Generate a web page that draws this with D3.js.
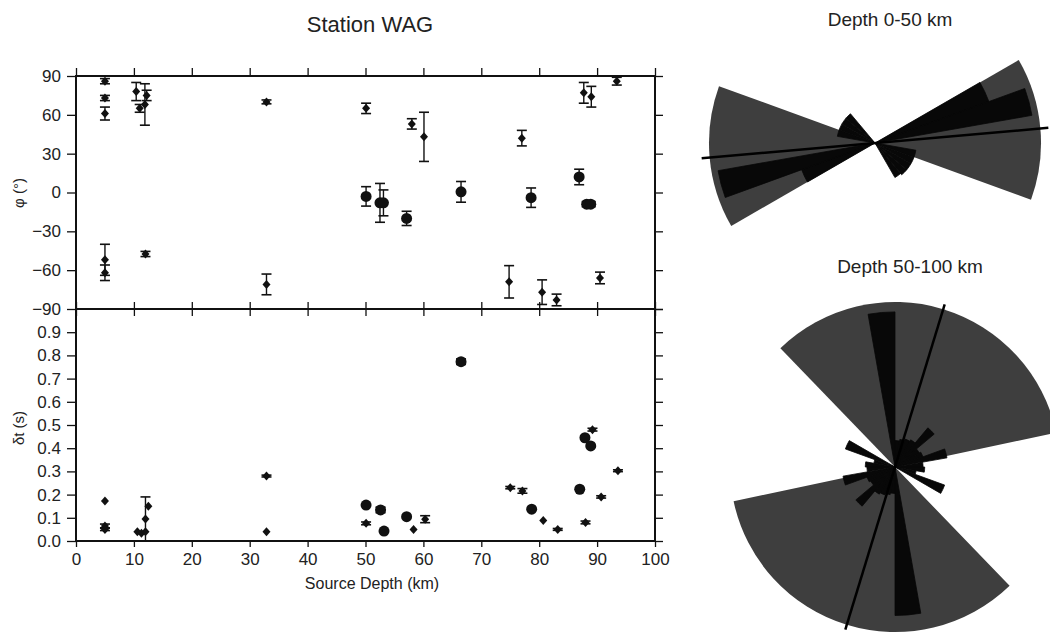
<!DOCTYPE html>
<html>
<head>
<meta charset="utf-8">
<script src="https://cdn.jsdelivr.net/npm/d3@7"></script>
<style>
  body { margin: 0; background: #fff; }
  svg { display: block; font-family: "Liberation Sans", Arial, Helvetica, sans-serif; }
</style>
</head>
<body>
<svg id="chart" width="1050" height="635"></svg>
<script>
// --- phi vs depth (top panel)
var phiDepth = [5.0, 5.0, 5.0, 5.0, 5.0, 10.4, 11.0, 11.9, 12.2, 12.0, 32.9, 32.9, 50.1, 58.0, 60.1, 74.8, 77.0, 80.5, 83.0, 87.7, 89.0, 90.5, 93.4,
                50.1, 52.5, 53.1, 57.1, 66.5, 78.6, 86.9, 88.2, 88.9];
var phiVal   = [86, 73, 61, -52, -62, 78, 65, 68, 75, -47.5, 70, -71, 65, 53, 43, -69, 42, -77, -83, 77, 74, -66, 86,
                -3, -8, -8, -20, 0.5, -4, 12, -9, -9];
var phiErr   = [2, 2, 5, 12, 6, 7, 3, 16, 4, 2, 1.5, 8, 4, 4, 19, 12.5, 6, 9.5, 4.5, 8, 8, 4.5, 3,
                7.5, 15, 10, 5.5, 8, 7.5, 6, 2, 2];
var phiSym   = ["d","d","d","d","d","d","d","d","d","d","d","d","d","d","d","d","d","d","d","d","d","d","d",
                "c","c","c","c","c","c","c","c","c"];

// --- delay time vs depth (bottom panel)
var dtDepth = [5.0, 5.0, 5.0, 10.6, 11.3, 12.0, 12.0, 12.5, 32.9, 32.9, 50.1, 58.3, 60.3, 75.0, 77.1, 80.7, 83.2, 88.0, 89.2, 90.7, 93.6,
               50.1, 52.6, 53.2, 57.1, 66.5, 78.7, 87.0, 87.9, 88.9];
var dtVal   = [0.172, 0.065, 0.05, 0.04, 0.033, 0.095, 0.04, 0.15, 0.28, 0.04, 0.076, 0.05, 0.094, 0.23, 0.216, 0.088, 0.05, 0.08, 0.48, 0.19, 0.303,
               0.155, 0.134, 0.043, 0.105, 0.773, 0.137, 0.223, 0.445, 0.41];
var dtErr   = [0, 0.008, 0.005, 0, 0, 0.095, 0, 0, 0.004, 0, 0.006, 0, 0.015, 0.005, 0.01, 0, 0.004, 0.006, 0.006, 0.005, 0.004,
               0, 0.012, 0, 0, 0.012, 0, 0, 0, 0];
var dtSym   = ["d","d","d","d","d","d","d","d","d","d","d","d","d","d","d","d","d","d","d","d","d",
               "c","c","c","c","c","c","c","c","c"];

var depthTicks = [0, 10, 20, 30, 40, 50, 60, 70, 80, 90, 100];
var phiTicks = [-90, -60, -30, 0, 30, 60, 90];
var dtTicks = [0, 0.1, 0.2, 0.3, 0.4, 0.5, 0.6, 0.7, 0.8, 0.9, 1.0];

// --- rose diagrams (azimuth in degrees clockwise from north, lengths as fraction of max)
var rose1GrayStart = [60, 240];
var rose1GrayEnd   = [110, 290];
var rose1BinStart  = [60, 70, 240, 250, 100, 110, 120, 130, 140, 280, 290, 300, 310];
var rose1BinLen    = [0.73, 0.96, 0.47, 0.96, 0.25, 0.25, 0.25, 0.25, 0.24, 0.23, 0.23, 0.23, 0.23];
var rose1Mean = 85;

var rose2GrayStart = [316, 136];
var rose2GrayEnd   = [438, 258];
var rose2BinStart  = [350, 170, 290, 110, 40, 220, 70, 250,
                      0, 10, 20, 30, 50, 60, 80, 90, 100, 180, 190, 200, 210, 230, 240, 260, 270, 280];
var rose2BinLen    = [0.94, 0.90, 0.32, 0.32, 0.31, 0.31, 0.32, 0.32,
                      0.16, 0.17, 0.18, 0.19, 0.17, 0.18, 0.17, 0.18, 0.13, 0.16, 0.17, 0.18, 0.19, 0.17, 0.18, 0.17, 0.18, 0.13];
var rose2Mean = 17;

var svg = d3.select("#chart");
var ink = "#111";

var x = d3.scaleLinear().domain([0, 100]).range([76, 655]);
var yPhi = d3.scaleLinear().domain([-90, 90]).range([309, 76]);
var yDt = d3.scaleLinear().domain([0, 1]).range([541, 309]);

// title
svg.append("text").attr("x", 370).attr("y", 32).attr("text-anchor", "middle")
  .attr("font-size", 22).attr("fill", "#222").text("Station WAG");

// axes
function styleAxis(g){
  g.select(".domain").remove();
  g.selectAll(".tick line").attr("stroke", ink).attr("stroke-width", 1.3);
  g.selectAll(".tick text").attr("font-size", 17).attr("fill", "#222")
   .attr("font-family", "Liberation Sans, Arial, sans-serif");
}

svg.append("g").attr("transform", "translate(0,76)")
  .call(d3.axisTop(x).tickValues(depthTicks).tickSize(8).tickFormat(""))
  .call(styleAxis);
svg.append("g").attr("transform", "translate(0,309)")
  .call(d3.axisBottom(x).tickValues(depthTicks).tickSize(7).tickFormat(""))
  .call(styleAxis);
svg.append("g").attr("transform", "translate(0,309)")
  .call(d3.axisTop(x).tickValues(depthTicks).tickSize(7).tickFormat(""))
  .call(styleAxis);
svg.append("g").attr("transform", "translate(0,541)")
  .call(d3.axisBottom(x).tickValues(depthTicks).tickSize(6).tickPadding(6).tickFormat(d3.format("d")))
  .call(styleAxis);

svg.append("g").attr("transform", "translate(76,0)")
  .call(d3.axisLeft(yPhi).tickValues(phiTicks).tickSize(9).tickPadding(6).tickFormat(d3.format("d")))
  .call(styleAxis);
svg.append("g").attr("transform", "translate(76,0)")
  .call(d3.axisLeft(yDt).tickValues(dtTicks.slice(0, 10)).tickSize(9).tickPadding(6).tickFormat(d3.format(".1f")))
  .call(styleAxis);
svg.append("g").attr("transform", "translate(655,0)")
  .call(d3.axisRight(yPhi).tickValues(phiTicks).tickSize(8).tickFormat(""))
  .call(styleAxis);
svg.append("g").attr("transform", "translate(655,0)")
  .call(d3.axisRight(yDt).tickValues(dtTicks).tickSize(8).tickFormat(""))
  .call(styleAxis);

// frames
svg.append("rect").attr("x", 76).attr("y", 76).attr("width", 579).attr("height", 465)
  .attr("fill", "none").attr("stroke", ink).attr("stroke-width", 2);
svg.append("line").attr("x1", 76).attr("x2", 655).attr("y1", 309).attr("y2", 309)
  .attr("stroke", ink).attr("stroke-width", 2);

// axis titles
svg.append("text").attr("transform", "translate(24,193) rotate(-90)").attr("text-anchor", "middle")
  .attr("font-size", 15).attr("fill", "#222").text("φ (°)");
svg.append("text").attr("transform", "translate(24,428) rotate(-90)").attr("text-anchor", "middle")
  .attr("font-size", 15).attr("fill", "#222").text("δt (s)");
svg.append("text").attr("x", 372).attr("y", 589).attr("text-anchor", "middle")
  .attr("font-size", 16).attr("fill", "#222").text("Source Depth (km)");

// symbols
function drawPoints(depth, val, err, sym, y){
  var g = svg.append("g");
  depth.forEach(function(d, i){
    var cx = x(d), cy = y(val[i]);
    if(err[i] > 0){
      var y1 = y(val[i] + err[i]), y2 = y(val[i] - err[i]);
      g.append("line").attr("x1", cx).attr("x2", cx).attr("y1", y1).attr("y2", y2)
        .attr("stroke", ink).attr("stroke-width", 1.4);
      g.append("line").attr("x1", cx - 5).attr("x2", cx + 5).attr("y1", y1).attr("y2", y1)
        .attr("stroke", ink).attr("stroke-width", 1.6);
      g.append("line").attr("x1", cx - 5).attr("x2", cx + 5).attr("y1", y2).attr("y2", y2)
        .attr("stroke", ink).attr("stroke-width", 1.6);
    }
    if(sym[i] == "c"){
      g.append("circle").attr("cx", cx).attr("cy", cy).attr("r", 5.5).attr("fill", ink);
    } else {
      g.append("path").attr("transform", "translate(" + cx + "," + cy + ")")
        .attr("d", "M0,-4.5L4,0L0,4.5L-4,0Z").attr("fill", ink);
    }
  });
}
drawPoints(phiDepth, phiVal, phiErr, phiSym, yPhi);
drawPoints(dtDepth, dtVal, dtErr, dtSym, yDt);

// rose diagrams
var rad = Math.PI / 180;
function drawRose(cx, cy, rmax, title, ty, grayStart, grayEnd, binStart, binLen, mean, lineLen){
  var r = d3.scaleLinear().domain([0, 1]).range([0, rmax]);
  var g = svg.append("g").attr("transform", "translate(" + cx + "," + cy + ")");
  var arc = d3.arc();
  grayStart.forEach(function(s, i){
    g.append("path").attr("d", arc({innerRadius: 0, outerRadius: r(1), startAngle: s * rad, endAngle: grayEnd[i] * rad}))
      .attr("fill", "#3e3e3e");
  });
  binStart.forEach(function(s, i){
    g.append("path").attr("d", arc({innerRadius: 0, outerRadius: r(binLen[i]), startAngle: s * rad, endAngle: (s + 10) * rad}))
      .attr("fill", "#080808").attr("stroke", "#080808").attr("stroke-width", 0.8).attr("stroke-linejoin", "miter");
  });
  var a = mean * rad;
  g.append("line")
    .attr("x1", Math.sin(a) * lineLen).attr("y1", -Math.cos(a) * lineLen)
    .attr("x2", -Math.sin(a) * lineLen).attr("y2", Math.cos(a) * lineLen)
    .attr("stroke", "#000").attr("stroke-width", 2.5);
  svg.append("text").attr("x", cx + 15).attr("y", ty).attr("text-anchor", "middle")
    .attr("font-size", 19).attr("fill", "#222").text(title);
}
drawRose(875, 143, 166, "Depth 0-50 km", 26, rose1GrayStart, rose1GrayEnd, rose1BinStart, rose1BinLen, rose1Mean, 174);
drawRose(895, 467, 165, "Depth 50-100 km", 273, rose2GrayStart, rose2GrayEnd, rose2BinStart, rose2BinLen, rose2Mean, 170);
</script>
</body>
</html>
